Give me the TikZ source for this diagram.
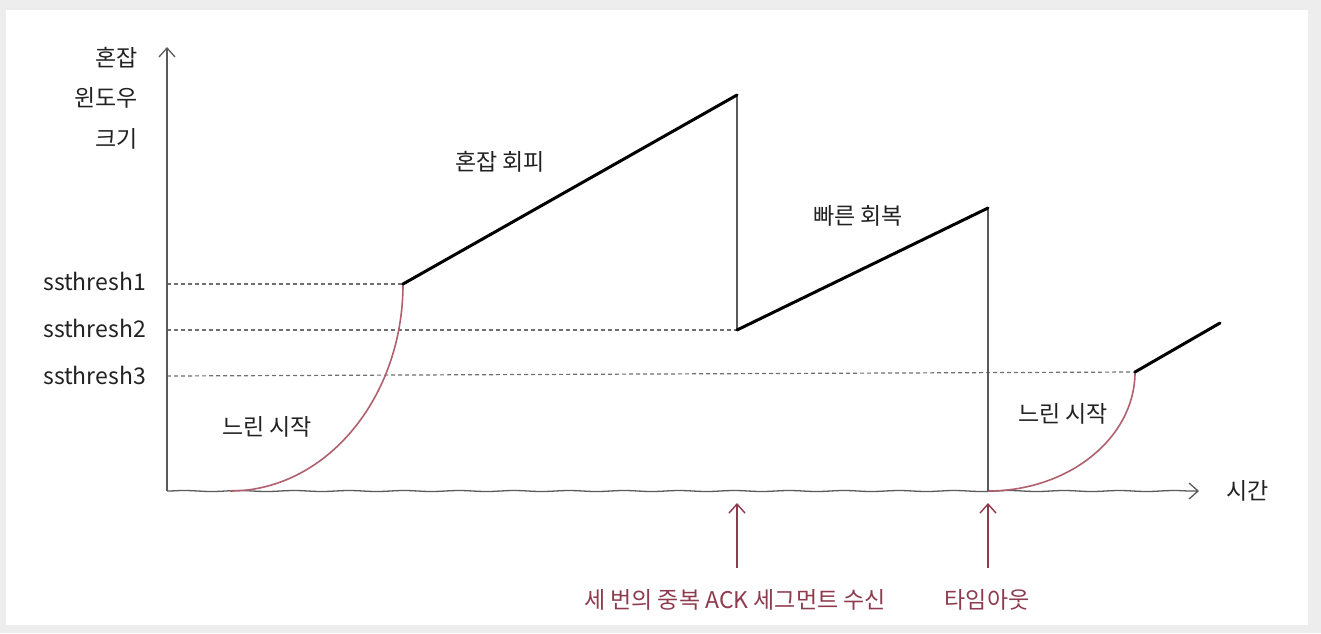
\documentclass[tikz,border=0pt]{standalone}
\usepackage{fontspec}
\setmainfont{Noto Sans CJK KR}
\usetikzlibrary{arrows.meta,decorations.pathmorphing,calc}
\definecolor{bordergrey}{HTML}{EDEDED}
\definecolor{axisgrey}{HTML}{5A5A5A}
\definecolor{dashgrey}{HTML}{707070}
\definecolor{maroon}{HTML}{8E3B4E}
\definecolor{curvecol}{HTML}{B0606E}
\definecolor{inkcol}{HTML}{222222}
\tikzset{
  axisline/.style={draw=axisgrey, line width=1.3pt, -{Straight Barb[length=9pt,width=16pt,line width=1.3pt]}},
  wavy/.style={decorate, decoration={snake, amplitude=0.5pt, segment length=55pt}},
  threshline/.style={draw=dashgrey, line width=1.2pt, dash pattern=on 4pt off 3pt},
  cwnd/.style={draw=black, line width=3pt, line cap=round},
  drop/.style={draw=axisgrey, line width=1.4pt},
  slowcurve/.style={draw=curvecol, line width=1.6pt},
  eventarrow/.style={draw=maroon, line width=1.4pt, -{Straight Barb[length=9pt,width=16pt,line width=1.4pt]}},
  lbl/.style={font=\fontsize{23}{26}\selectfont, text=inkcol, inner sep=0pt},
  thlbl/.style={font=\fontsize{23}{26}\selectfont, text=inkcol, inner sep=0pt, anchor=east},
  evlbl/.style={font=\fontsize{23}{26}\selectfont, text=maroon, inner sep=0pt},
}
\begin{document}
\begin{tikzpicture}[x=1pt,y=-1pt]
\useasboundingbox (0,0) rectangle (1321,633);
\fill[bordergrey] (0,0) rectangle (1321,633);
\fill[white] (6,10) rectangle (1308,625);
% key points
\coordinate (O) at (167,491);
\coordinate (ytop) at (167,47);
\coordinate (xend) at (1199,491);
\coordinate (xpre) at (1196,491);
\coordinate (s1start) at (230,491);
\coordinate (p1) at (403,284);
\coordinate (p2) at (737,95);
\coordinate (p3) at (737,330);
\coordinate (p4) at (988,208);
\coordinate (p5) at (988,491);
\coordinate (p6) at (1135,372);
\coordinate (p7) at (1220,323);
\coordinate (t1) at (167,284);
\coordinate (t2) at (167,330);
\coordinate (t3) at (167,376);
\coordinate (a1s) at (737,568);
\coordinate (a1e) at (737,503);
\coordinate (a2s) at (988,568);
\coordinate (a2e) at (988,503);
% thresholds
\draw[threshline] (t1) -- (p1);
\draw[threshline] (t2) -- (p3);
\draw[threshline] (t3) -- (p6);
% axes
\draw[draw=axisgrey, line width=1.3pt, wavy] (O) -- (xpre);
\draw[axisline] (xpre) -- (xend);
\draw[axisline] (O) -- (ytop);
% slow start curves
\draw[slowcurve] (s1start) .. controls (325.5,491) and (403,398.3) .. (p1);
\draw[slowcurve] (p5) .. controls (1069,491) and (1135,437.7) .. (p6);
% drops
\draw[drop] (p2) -- (p3);
\draw[drop] (p4) -- (p5);
% cwnd lines
\draw[cwnd] (p1) -- (p2);
\draw[cwnd] (p3) -- (p4);
\draw[cwnd] (p6) -- (p7);
% event arrows
\draw[eventarrow] (a1s) -- (a1e);
\draw[eventarrow] (a2s) -- (a2e);
% labels
\node[lbl, anchor=east] (yl1) at (138,58) {혼잡};
\node[lbl, anchor=east] (yl2) at (138,98) {윈도우};
\node[lbl, anchor=east] (yl3) at (138,139) {크기};
\node[thlbl] (th1) at (146,281) {ssthresh1};
\node[thlbl] (th2) at (146,328) {ssthresh2};
\node[thlbl] (th3) at (146,375) {ssthresh3};
\node[lbl] (ca) at (500,162) {혼잡 회피};
\node[lbl] (fr) at (858,216) {빠른 회복};
\node[lbl] (ss1) at (267,427) {느린 시작};
\node[lbl] (ss2) at (1063,414) {느린 시작};
\node[lbl, anchor=west] (xl) at (1226,491) {시간};
\node[evlbl] (ev1) at (735,600) {세 번의 중복 ACK 세그먼트 수신};
\node[evlbl] (ev2) at (987,600) {타임아웃};
\end{tikzpicture}
\end{document}
